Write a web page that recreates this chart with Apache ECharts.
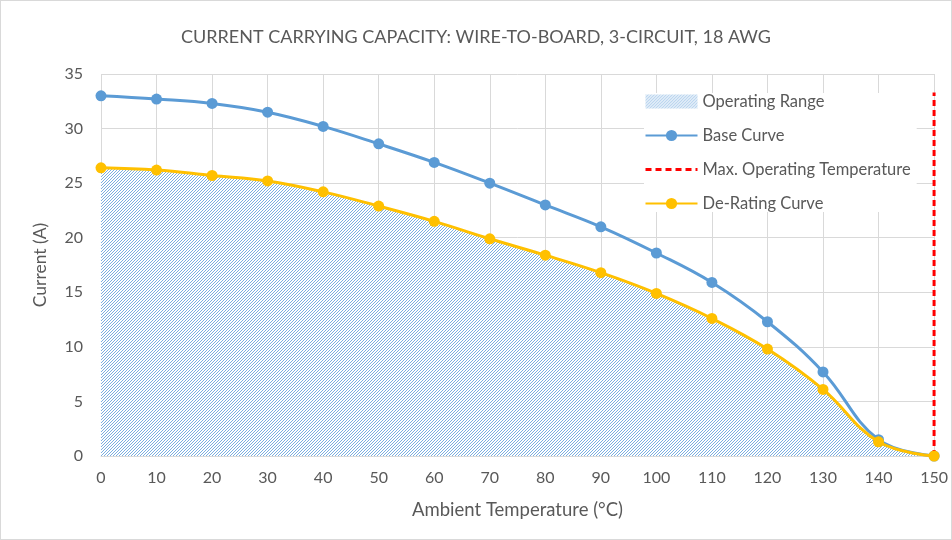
<!DOCTYPE html>
<html><head><meta charset="utf-8">
<script src="https://cdn.jsdelivr.net/npm/echarts@6/dist/echarts.min.js"></script>
<style>
html,body{margin:0;padding:0;background:#fff;}
#c{width:950px;height:538px;border:1px solid #d9d9d9;}
</style></head>
<body><div id="c"></div>
<script>
const temps = [0,10,20,30,40,50,60,70,80,90,100,110,120,130,140,150];
const baseCurve = [33.0,32.7,32.3,31.5,30.2,28.6,26.9,25.0,23.0,21.0,18.6,15.9,12.3,7.7,1.5,0];
const deratingCurve = [26.4,26.2,25.7,25.2,24.2,22.9,21.5,19.9,18.4,16.8,14.9,12.6,9.8,6.1,1.3,0];
const maxTemp = 150;
const maxLineTop = 33.3;

const pair = (xs, ys) => xs.map((x,i)=>[x, ys[i]]);
const font = 'Lato, "Open Sans", sans-serif';
const chart = echarts.init(document.getElementById('c'));

function build(hatchImg){
chart.setOption({
  animation:false,
  textStyle:{fontFamily:font},
  title:{text:'CURRENT CARRYING CAPACITY: WIRE-TO-BOARD, 3-CIRCUIT, 18 AWG', left:'center', top:22,
    textStyle:{fontFamily:font, fontSize:18, fontWeight:'normal', color:'#595959'}},
  grid:{left:100, right:16, top:73, bottom:83},
  legend:{
    orient:'vertical', left:643, top:92, itemGap:17, itemWidth:52, itemHeight:14,
    backgroundColor:'#ffffff', padding:[0,6,0,0],
    textStyle:{fontFamily:font, fontSize:16.5, color:'#595959'},
    data:[
      {name:'Operating Range', icon:'rect', itemStyle:{color:{image:hatchImg, repeat:'repeat'}}},
      {name:'Base Curve'},
      {name:'Max. Operating Temperature', lineStyle:{type:[6,4], width:3}, itemStyle:{color:'rgba(0,0,0,0)', borderWidth:0}},
      {name:'De-Rating Curve'}
    ]
  },
  xAxis:{type:'value', min:0, max:150, interval:10,
    name:'Ambient Temperature (°C)', nameLocation:'middle', nameGap:45,
    nameTextStyle:{fontFamily:font, fontSize:18.5, color:'#595959'},
    axisLine:{lineStyle:{color:'#d9d9d9'}}, axisTick:{show:false},
    axisLabel:{fontFamily:font, fontSize:16, color:'#595959', margin:14},
    splitLine:{show:true, lineStyle:{color:'#d9d9d9'}}},
  yAxis:{type:'value', min:0, max:35, interval:5,
    name:'Current (A)', nameLocation:'middle', nameGap:52,
    nameTextStyle:{fontFamily:font, fontSize:17.5, color:'#595959'},
    axisLine:{show:false}, axisTick:{show:false},
    axisLabel:{fontFamily:font, fontSize:16, color:'#595959', margin:18},
    splitLine:{show:true, lineStyle:{color:'#d9d9d9'}}},
  series:[
    {name:'Operating Range', type:'line', data:pair(temps, deratingCurve), smooth:0.4,
      symbol:'none', lineStyle:{width:0, color:'#5b9bd5'}, itemStyle:{color:'#5b9bd5'},
      areaStyle:{color:{image:hatchImg, repeat:'repeat'}, opacity:1}, z:1},
    {name:'Base Curve', type:'line', data:pair(temps, baseCurve), smooth:0.4,
      symbol:'circle', symbolSize:11, lineStyle:{color:'#5b9bd5', width:3},
      itemStyle:{color:'#5b9bd5'}, z:2},
    {name:'Max. Operating Temperature', type:'line', data:[[maxTemp,0],[maxTemp,maxLineTop]],
      symbol:'none', lineStyle:{color:'#ff0000', width:3, type:[6,4]}, itemStyle:{color:'#ff0000'}, z:3},
    {name:'De-Rating Curve', type:'line', data:pair(temps, deratingCurve), smooth:0.4,
      symbol:'circle', symbolSize:11, lineStyle:{color:'#ffc000', width:3},
      itemStyle:{color:'#ffc000'}, z:4}
  ]
});
}

const T = 9;
const pc = document.createElement('canvas');
pc.width = T; pc.height = T;
const ctx = pc.getContext('2d');
ctx.fillStyle = '#ffffff'; ctx.fillRect(0,0,T,T);
ctx.strokeStyle = '#7aaee0'; ctx.lineWidth = 1;
ctx.beginPath();
for (let k = -T; k <= 2*T; k += 3) { ctx.moveTo(k, T); ctx.lineTo(k + T, 0); }
ctx.stroke();
const img = new Image();
img.onload = () => build(img);
img.src = pc.toDataURL('image/png');
</script></body></html>
